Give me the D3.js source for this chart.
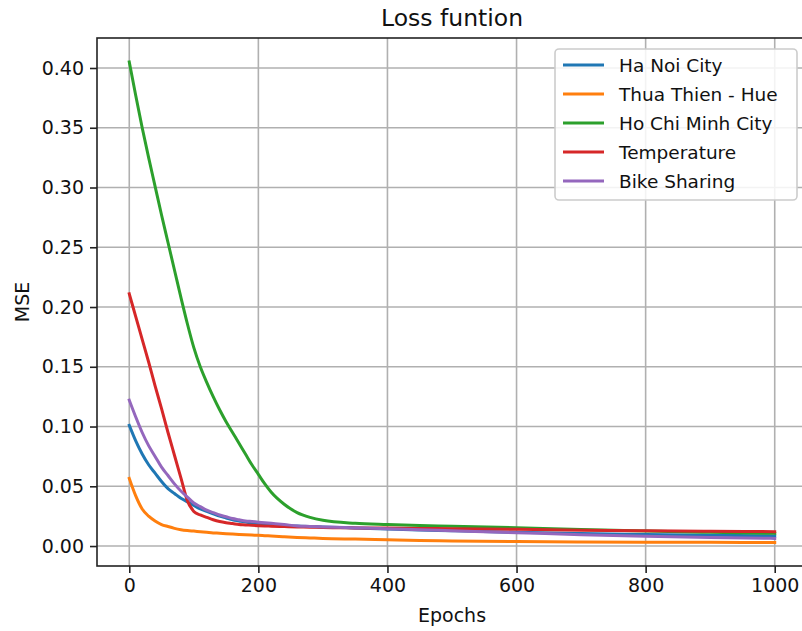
<!DOCTYPE html>
<html><head><meta charset="utf-8">
<script src="https://cdn.jsdelivr.net/npm/d3@7/dist/d3.min.js"></script>
<style>body{margin:0;background:#fff}svg{display:block}text{font-family:"DejaVu Sans",sans-serif;fill:#111}</style>
</head><body>
<svg id="chart" width="802" height="631"></svg>
<script>
const epochs = [0,10,20,30,40,50,60,70,80,90,100,110,120,130,140,150,160,170,180,190,200,210,220,240,260,280,300,350,400,450,500,600,700,800,900,1000];
const haNoi = [0.101,0.088,0.077,0.068,0.061,0.054,0.048,0.044,0.040,0.037,0.034,0.031,0.029,0.027,0.025,0.0235,0.022,0.021,0.020,0.0192,0.0185,0.018,0.0176,0.0171,0.0167,0.0163,0.016,0.0151,0.0142,0.0135,0.0128,0.0115,0.0105,0.0097,0.009,0.0085];
const thuaThienHue = [0.0566,0.042,0.031,0.025,0.021,0.018,0.0163,0.0148,0.0137,0.013,0.0125,0.012,0.0115,0.011,0.0107,0.0103,0.01,0.0097,0.0094,0.0092,0.009,0.0087,0.0084,0.0078,0.0072,0.0068,0.0064,0.0058,0.0052,0.0047,0.0043,0.0037,0.0034,0.0032,0.0031,0.003];
const hoChiMinh = [0.405,0.377,0.350,0.325,0.301,0.277,0.254,0.231,0.208,0.186,0.166,0.150,0.137,0.125,0.114,0.104,0.095,0.086,0.077,0.068,0.060,0.052,0.045,0.035,0.028,0.024,0.0215,0.019,0.018,0.0172,0.0166,0.0153,0.0138,0.0125,0.0115,0.0106];
const temperature = [0.211,0.192,0.173,0.154,0.134,0.115,0.095,0.076,0.057,0.038,0.029,0.026,0.024,0.022,0.0205,0.0195,0.0188,0.018,0.0177,0.0173,0.017,0.0168,0.0166,0.0163,0.016,0.0158,0.0155,0.0152,0.015,0.0147,0.0145,0.014,0.0133,0.0128,0.0124,0.012];
const bikeSharing = [0.122,0.108,0.095,0.084,0.075,0.066,0.059,0.052,0.046,0.041,0.036,0.033,0.030,0.028,0.026,0.0245,0.023,0.022,0.021,0.0205,0.020,0.0195,0.019,0.018,0.0168,0.0164,0.016,0.0152,0.0145,0.0136,0.0128,0.0112,0.0095,0.0082,0.0072,0.0064];
const seriesNames = ["Ha Noi City","Thua Thien - Hue","Ho Chi Minh City","Temperature","Bike Sharing"];
const seriesColors = ["#1f77b4","#ff7f0e","#2ca02c","#d62728","#9467bd"];
const xTicks = [0,200,400,600,800,1000];
const yTicks = [0,0.05,0.10,0.15,0.20,0.25,0.30,0.35,0.40];
const seriesValues = [haNoi, thuaThienHue, hoChiMinh, temperature, bikeSharing];

const svg = d3.select("#chart");
const L = 97, R = 807, T = 38, B = 566;
const x = d3.scaleLinear().domain([-50,1050]).range([L,R]);
const y = d3.scaleLinear().domain([-0.0167,0.4251]).range([B,T]);

// grid
const g = svg.append("g");
g.selectAll(".gx").data(xTicks).enter().append("line")
  .attr("x1",d=>x(d)).attr("x2",d=>x(d)).attr("y1",T).attr("y2",B)
  .attr("stroke","#b0b0b0").attr("stroke-width",1.6);
g.selectAll(".gy").data(yTicks).enter().append("line")
  .attr("x1",L).attr("x2",R).attr("y1",d=>y(d)).attr("y2",d=>y(d))
  .attr("stroke","#b0b0b0").attr("stroke-width",1.6);

// lines
const line = d3.line().x((d,i)=>x(epochs[i])).y(d=>y(d)).curve(d3.curveMonotoneX);
seriesValues.forEach((vals,k)=>{
  svg.append("path").datum(vals).attr("d",line)
    .attr("fill","none").attr("stroke",seriesColors[k]).attr("stroke-width",3)
    .attr("stroke-linejoin","round").attr("stroke-linecap","square");
});

// axes
const xAxis = d3.axisBottom(x).tickValues(xTicks).tickSize(7).tickPadding(6).tickFormat(d3.format("d"));
const yAxis = d3.axisLeft(y).tickValues(yTicks).tickSize(7).tickPadding(6).tickFormat(d3.format(".2f"));
const gx = svg.append("g").attr("transform",`translate(0,${B})`).call(xAxis);
const gy = svg.append("g").attr("transform",`translate(${L},0)`).call(yAxis);
[gx,gy].forEach(a=>{
  a.select(".domain").remove();
  a.selectAll(".tick line").attr("stroke","#222").attr("stroke-width",1.6);
  a.selectAll(".tick text").attr("font-size",19).attr("font-family","DejaVu Sans").attr("fill","#111");
});

// spines
svg.append("rect").attr("x",L).attr("y",T).attr("width",R-L).attr("height",B-T)
  .attr("fill","none").attr("stroke","#222").attr("stroke-width",1.6);

// title & labels
svg.append("text").attr("x",(L+R)/2).attr("y",26).attr("text-anchor","middle").attr("font-size",23.5).text("Loss funtion");
svg.append("text").attr("x",(L+R)/2).attr("y",622).attr("text-anchor","middle").attr("font-size",19).text("Epochs");
svg.append("text").attr("transform",`translate(29,${(T+B)/2}) rotate(-90)`).attr("text-anchor","middle").attr("font-size",19).text("MSE");

// legend
const lg = svg.append("g");
lg.append("rect").attr("x",555).attr("y",49).attr("width",242).attr("height",151).attr("rx",4)
  .attr("fill","rgba(255,255,255,0.85)").attr("stroke","#cccccc").attr("stroke-width",1.6);
seriesNames.forEach((n,i)=>{
  const yy = 65 + i*29;
  lg.append("line").attr("x1",563).attr("x2",604).attr("y1",yy).attr("y2",yy)
    .attr("stroke",seriesColors[i]).attr("stroke-width",3);
  lg.append("text").attr("x",619).attr("y",yy+7).attr("font-size",18.5).text(n);
});
</script>
</body></html>
